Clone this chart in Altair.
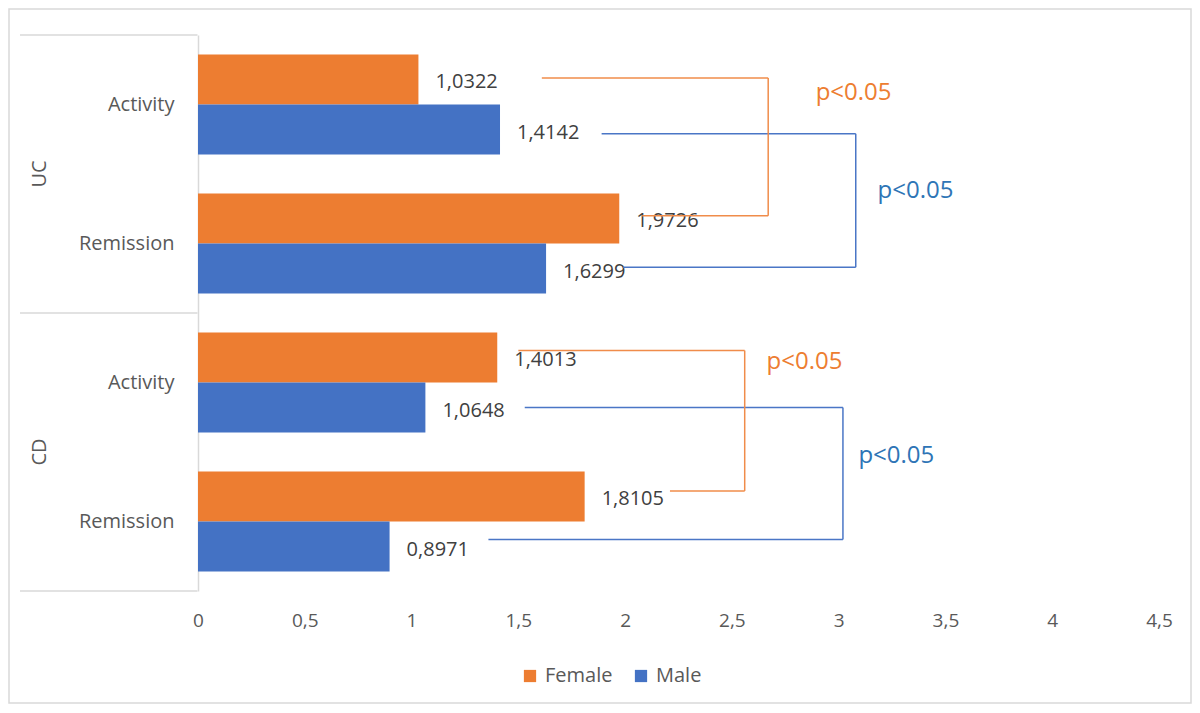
import altair as alt
import pandas as pd

FONT = "Open Sans"

# ---- data ----
diseases = ["UC", "UC", "CD", "CD"]
states = ["Activity", "Remission", "Activity", "Remission"]
female = [1.0322, 1.9726, 1.4013, 1.8105]
male = [1.4142, 1.6299, 1.0648, 0.8971]
genders = ["Female", "Male"]
bar_colors = ["#ED7D31", "#4472C4"]
x_ticks = [0, 0.5, 1, 1.5, 2, 2.5, 3, 3.5, 4, 4.5]

# significance brackets: x in value units, y in row units (row i spans [i, i+1])
br_line_color = ["#F08C4A", "#4A76C6", "#F08C4A", "#4A76C6"]
br_top_y = [0.31, 0.71, 2.27, 2.68]
br_bot_y = [1.30, 1.67, 3.28, 3.63]
br_top_x = [1.61, 1.89, 1.50, 1.53]
br_bot_x = [2.08, 1.99, 2.21, 1.36]
br_edge_x = [2.67, 3.08, 2.56, 3.02]
p_text = ["p<0.05", "p<0.05", "p<0.05", "p<0.05"]
p_color = ["#ED7D31", "#2E75B6", "#ED7D31", "#2E75B6"]
p_x = [3.07, 3.36, 2.84, 3.27]
p_y = [0.42, 1.12, 2.35, 3.03]

group_names = ["UC", "CD"]
group_center = [1, 3]
group_edges = [0, 2, 4]

# ---- tables ----
cats = [f"{d}|{s}" for d, s in zip(diseases, states)]
rows = []
for c, f, m in zip(cats, female, male):
    rows.append({"cat": c, "gender": "Female", "value": f,
                 "label": f"{f:.4f}".replace(".", ",")})
    rows.append({"cat": c, "gender": "Male", "value": m,
                 "label": f"{m:.4f}".replace(".", ",")})
bars_df = pd.DataFrame(rows)

br_df = pd.DataFrame({
    "ty": br_top_y, "by": br_bot_y, "tx": br_top_x, "bx": br_bot_x,
    "ex": br_edge_x, "lc": br_line_color,
})
p_df = pd.DataFrame({"t": p_text, "c": p_color, "x": p_x, "y": p_y})
grp_df = pd.DataFrame({"g": group_names, "y": group_center})
edge_df = pd.DataFrame({"y": group_edges})

XS = alt.Scale(domain=[0, 4.5], nice=False, zero=True)
XAXIS = alt.Axis(
    values=x_ticks, labelExpr="replace(toString(datum.value), '.', ',')",
    domain=False, ticks=False, grid=False, labelPadding=20, labelFlush=False,
    labelFontSize=19, labelColor="#595959", labelFont=FONT, title=None,
)
UNIT = alt.Scale(domain=[0, 4], reverse=True, nice=False, zero=False)


def xq(field):
    return alt.X(field, type="quantitative", scale=XS, axis=XAXIS, title=None)


ysc = alt.Scale(domain=cats, paddingInner=0.28, paddingOuter=0.14)
yoff = alt.YOffset("gender:N", sort=genders,
                   scale=alt.Scale(domain=genders, paddingInner=0, paddingOuter=0))

bars = alt.Chart(bars_df).mark_bar().encode(
    x=xq("value"),
    y=alt.Y("cat:N", sort=cats, scale=ysc, title=None,
            axis=alt.Axis(labelExpr="split(datum.value, '|')[1]", ticks=False,
                          domain=True, domainColor="#D9D9D9", domainWidth=1.5,
                          labelPadding=24, labelFontSize=20, labelColor="#595959",
                          labelFont=FONT, grid=False)),
    yOffset=yoff,
    color=alt.Color("gender:N", sort=genders,
                    scale=alt.Scale(domain=genders, range=bar_colors),
                    legend=alt.Legend(orient="none", legendX=322, legendY=631,
                                      direction="horizontal", title=None,
                                      symbolType="square", symbolSize=150,
                                      symbolStrokeWidth=0, labelFontSize=20,
                                      labelColor="#595959", labelFont=FONT,
                                      columnPadding=18, labelOffset=5)),
)

labels = alt.Chart(bars_df).mark_text(
    align="left", baseline="middle", dx=17, dy=3, fontSize=20,
    color="#404040", font=FONT,
).encode(
    x=xq("value"),
    y=alt.Y("cat:N", sort=cats, scale=ysc, title=None),
    yOffset=yoff,
    text="label:N",
)

inner = alt.layer(bars, labels)

top_line = alt.Chart(br_df).mark_rule(strokeWidth=1.5).encode(
    x=xq("tx"), x2="ex",
    y=alt.Y("ty:Q", scale=UNIT, axis=None),
    color=alt.Color("lc:N", scale=None),
)
edge_line = alt.Chart(br_df).mark_rule(strokeWidth=1.5).encode(
    x=xq("ex"),
    y=alt.Y("ty:Q", scale=UNIT, axis=None), y2="by",
    color=alt.Color("lc:N", scale=None),
)
bot_line = alt.Chart(br_df).mark_rule(strokeWidth=1.5).encode(
    x=xq("bx"), x2="ex",
    y=alt.Y("by:Q", scale=UNIT, axis=None),
    color=alt.Color("lc:N", scale=None),
)
p_labels = alt.Chart(p_df).mark_text(
    align="center", baseline="middle", fontSize=24, font=FONT,
).encode(
    x=xq("x"),
    y=alt.Y("y:Q", scale=UNIT, axis=None),
    text="t:N",
    color=alt.Color("c:N", scale=None),
)

grp_lines = alt.Chart(edge_df).mark_rule(color="#D9D9D9", strokeWidth=1.5).encode(
    x=alt.value(-178), x2=alt.value(-0.5),
    y=alt.Y("y:Q", scale=UNIT, axis=None),
)
grp_text = alt.Chart(grp_df).mark_text(
    angle=270, align="center", baseline="middle", fontSize=20,
    color="#595959", font=FONT,
).encode(
    x=alt.value(-158),
    y=alt.Y("y:Q", scale=UNIT, axis=None),
    text="g:N",
)

frame = alt.Chart(pd.DataFrame({"a": [0]})).mark_rect(
    fill="transparent", stroke="#D9D9D9", strokeWidth=1.5,
).encode(
    x=alt.value(-189), x2=alt.value(993), y=alt.value(-26), y2=alt.value(668),
)

chart = alt.layer(
    inner, top_line, edge_line, bot_line, p_labels, grp_lines, grp_text, frame
).resolve_scale(y="independent").properties(
    width=961, height=556,
    autosize=alt.AutoSizeParams(type="none"),
    padding={"left": 190, "top": 27, "right": 33, "bottom": 114},
).configure(font=FONT).configure_view(strokeWidth=0, stroke="transparent")

chart.save("out.html", embed_options={"renderer": "svg", "actions": False})
